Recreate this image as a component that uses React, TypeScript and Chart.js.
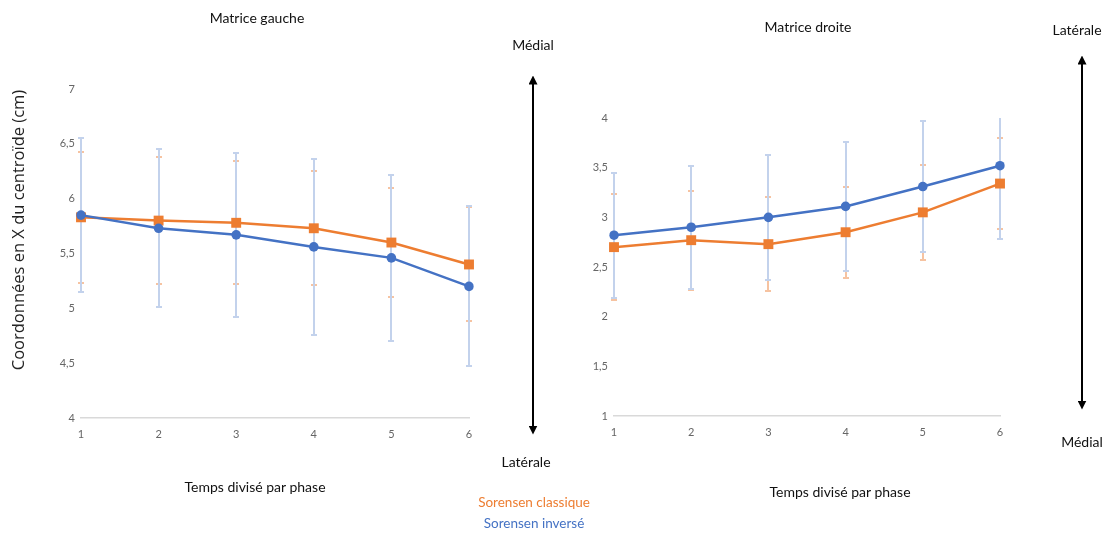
import React, { useEffect, useRef } from 'react';
import { Chart, registerables } from 'chart.js';

Chart.register(...registerables);

const phases = ['1', '2', '3', '4', '5', '6'];

const gaucheClassique = [5.83, 5.8, 5.78, 5.73, 5.6, 5.4];
const gaucheClassiqueSD = [0.6, 0.58, 0.56, 0.52, 0.5, 0.52];
const gaucheInverse = [5.85, 5.73, 5.67, 5.56, 5.46, 5.2];
const gaucheInverseSD = [0.7, 0.72, 0.75, 0.8, 0.76, 0.73];

const droiteClassique = [2.7, 2.77, 2.73, 2.85, 3.05, 3.34];
const droiteClassiqueSD = [0.53, 0.5, 0.47, 0.46, 0.48, 0.46];
const droiteInverse = [2.82, 2.9, 3.0, 3.11, 3.31, 3.52];
const droiteInverseSD = [0.63, 0.62, 0.63, 0.65, 0.66, 0.74];

const gaucheYTicks = [4, 7];
const droiteYTicks = [1, 4];

const ORANGE = '#ED7D31';
const BLUE = '#4472C4';
const ORANGE_ERR = '#f6c3a1';
const BLUE_ERR = '#c3d2ec';

const errorBarPlugin = {
  id: 'errorBars',
  beforeDatasetsDraw(chart: any) {
    const { ctx, chartArea, scales } = chart;
    ctx.save();
    ctx.beginPath();
    ctx.rect(chartArea.left - 6, chartArea.top - 0.5, chartArea.right - chartArea.left + 12, chartArea.bottom - chartArea.top + 1);
    ctx.clip();
    const order = [1, 0];
    order.forEach((i) => {
      const ds = chart.data.datasets[i];
      const meta = chart.getDatasetMeta(i);
      if (!ds || !ds.errors) return;
      ctx.strokeStyle = ds.errorColor;
      ctx.lineWidth = 2;
      meta.data.forEach((pt: any, j: number) => {
        const v = ds.data[j];
        const e = ds.errors[j];
        const yTop = Math.round(scales.y.getPixelForValue(v + e));
        const yBot = Math.round(scales.y.getPixelForValue(v - e));
        const x = Math.round(pt.x);
        ctx.beginPath();
        ctx.moveTo(x, Math.max(yTop, chartArea.top));
        ctx.lineTo(x, yBot);
        if (yTop >= chartArea.top) {
          ctx.moveTo(x - 3, yTop);
          ctx.lineTo(x + 3, yTop);
        }
        ctx.moveTo(x - 3, yBot);
        ctx.lineTo(x + 3, yBot);
        ctx.stroke();
      });
    });
    ctx.restore();
  },
};

type Props = {
  left: number;
  width: number;
  height: number;
  padding: { left: number; right: number; top: number; bottom: number };
  yRange: number[];
  classique: number[];
  classiqueSD: number[];
  inverse: number[];
  inverseSD: number[];
};

function PhaseChart(p: Props) {
  const ref = useRef<HTMLCanvasElement | null>(null);
  useEffect(() => {
    if (!ref.current) return;
    const chart = new Chart(ref.current, {
      type: 'line',
      data: {
        labels: phases,
        datasets: [
          {
            label: 'Sorensen inversé',
            data: p.inverse,
            errors: p.inverseSD,
            errorColor: BLUE_ERR,
            borderColor: BLUE,
            backgroundColor: BLUE,
            borderWidth: 2.5,
            pointStyle: 'circle',
            pointRadius: 4.8,
            pointBorderWidth: 0,
            tension: 0,
            order: 0,
          } as any,
          {
            label: 'Sorensen classique',
            data: p.classique,
            errors: p.classiqueSD,
            errorColor: ORANGE_ERR,
            borderColor: ORANGE,
            backgroundColor: ORANGE,
            borderWidth: 2.5,
            pointStyle: 'rect',
            pointRadius: 7,
            pointBorderWidth: 0,
            tension: 0,
            order: 1,
          } as any,
        ],
      },
      options: {
        responsive: false,
        animation: false,
        devicePixelRatio: 1,
        layout: { padding: p.padding },
        plugins: {
          legend: { display: false },
          tooltip: { enabled: false },
          title: { display: false },
        },
        scales: {
          x: {
            type: 'category',
            offset: false,
            grid: { display: false, drawTicks: false, tickLength: 0 },
            border: { display: true, color: '#d9d9d9', width: 1.5 },
            ticks: { color: '#666', font: { family: 'Lato', size: 11 }, padding: 10, maxRotation: 0 },
            afterFit: (s: any) => {
              s.height = 24;
            },
          },
          y: {
            min: p.yRange[0],
            max: p.yRange[1],
            grid: { display: false, drawTicks: false, tickLength: 0 },
            border: { display: false },
            ticks: {
              stepSize: 0.5,
              color: '#666',
              font: { family: 'Lato', size: 11 },
              padding: 6,
              callback: (v: any) => String(v).replace('.', ','),
            },
            afterFit: (s: any) => {
              s.width = 41;
            },
          },
        },
      } as any,
      plugins: [errorBarPlugin],
    });
    return () => chart.destroy();
  }, []);
  return (
    <canvas
      ref={ref}
      width={p.width}
      height={p.height}
      style={{ position: 'absolute', left: p.left, top: 0, width: p.width, height: p.height }}
    />
  );
}

const textBase: React.CSSProperties = {
  position: 'absolute',
  transform: 'translate(-50%, -50%)',
  whiteSpace: 'nowrap',
  fontFamily: 'Lato, sans-serif',
  fontSize: 14,
  color: '#111',
  lineHeight: 1,
};

function Label({ x, y, text, style }: { x: number; y: number; text: string; style?: React.CSSProperties }) {
  return <div style={{ ...textBase, left: x, top: y, ...style }}>{text}</div>;
}

export default function App() {
  return (
    <div style={{ position: 'absolute', left: 0, top: 0, width: 1104, height: 535, background: '#fff', overflow: 'hidden' }}>
      <PhaseChart
        left={0}
        width={560}
        height={470}
        padding={{ left: 40, top: 89, right: 91, bottom: 28 }}
        yRange={gaucheYTicks}
        classique={gaucheClassique}
        classiqueSD={gaucheClassiqueSD}
        inverse={gaucheInverse}
        inverseSD={gaucheInverseSD}
      />
      <PhaseChart
        left={560}
        width={544}
        height={470}
        padding={{ left: 13, top: 118, right: 104, bottom: 30 }}
        yRange={droiteYTicks}
        classique={droiteClassique}
        classiqueSD={droiteClassiqueSD}
        inverse={droiteInverse}
        inverseSD={droiteInverseSD}
      />
      <svg width={1104} height={535} style={{ position: 'absolute', left: 0, top: 0 }}>
        <defs>
          <marker id="ah" viewBox="0 0 10 10" refX="5" refY="5" markerWidth="4.5" markerHeight="4.5" orient="auto-start-reverse">
            <path d="M0,0 L10,5 L0,10 z" fill="#000" />
          </marker>
        </defs>
        <line x1={533} y1={80} x2={533} y2={430} stroke="#000" strokeWidth={2} markerStart="url(#ah)" markerEnd="url(#ah)" />
        <line x1={1082} y1={60} x2={1082} y2={405} stroke="#000" strokeWidth={2} markerStart="url(#ah)" markerEnd="url(#ah)" />
      </svg>
      <Label x={257} y={18} text="Matrice gauche" />
      <Label x={808} y={27} text="Matrice droite" />
      <Label x={533} y={45} text="Médial" />
      <Label x={526} y={462} text="Latérale" />
      <Label x={1077} y={30} text="Latérale" />
      <Label x={1082} y={442} text="Médial" />
      <Label x={255} y={487} text="Temps divisé par phase" />
      <Label x={840} y={492} text="Temps divisé par phase" />
      <Label x={534} y={503} text="Sorensen classique" style={{ color: ORANGE, fontSize: 13.5 }} />
      <Label x={534} y={524} text="Sorensen inversé" style={{ color: BLUE, fontSize: 13.5 }} />
      <div
        style={{
          ...textBase,
          left: 18,
          top: 230,
          fontFamily: '"Open Sans", sans-serif',
          fontSize: 16.5,
          color: '#222',
          transform: 'translate(-50%, -50%) rotate(-90deg)',
        }}
      >
        Coordonnées en X du centroïde (cm)
      </div>
    </div>
  );
}
